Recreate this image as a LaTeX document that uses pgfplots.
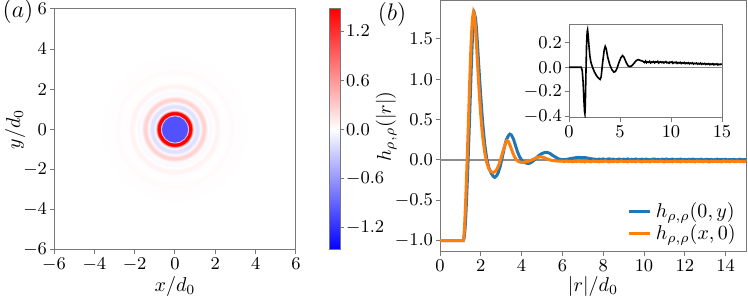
\documentclass[border=0pt]{standalone}
\usepackage{pgfplots}
\pgfplotsset{compat=1.18}
\usepackage{pgfplotstable}

\definecolor{mplblue}{RGB}{31,119,180}
\definecolor{mplorange}{RGB}{255,127,14}
\definecolor{framegray}{RGB}{120,120,120}

% radial profile of the 2D map (outer radius of each ring in units of d0, value h)
\pgfplotstableread{
x y r h
0 0 3.60 0.006
0 0 3.27 0.012
0 0 2.92 0.022
0 0 2.75 0.010
0 0 2.58 0.002
0 0 2.41 0.015
0 0 2.24 0.055
0 0 2.15 0.065
0 0 2.06 0.050
0 0 1.98 0.010
0 0 1.85 -0.030
0 0 1.72 -0.020
0 0 1.68 0.010
0 0 1.63 0.060
0 0 1.59 0.130
0 0 1.55 0.200
0 0 1.50 0.250
0 0 1.46 0.270
0 0 1.42 0.240
0 0 1.38 0.170
0 0 1.33 0.080
0 0 1.29 -0.020
0 0 1.25 -0.100
0 0 1.20 -0.150
0 0 1.16 -0.180
0 0 1.12 -0.180
0 0 1.08 -0.160
0 0 1.03 -0.110
0 0 0.99 -0.020
0 0 0.95 0.120
0 0 0.92 0.350
0 0 0.89 0.700
0 0 0.86 1.200
0 0 0.84 1.600
0 0 0.80 1.800
0 0 0.76 1.800
0 0 0.72 1.700
0 0 0.69 0.900
0 0 0.675 0.100
0 0 0.66 -0.300
0 0 0.645 -0.850
0 0 0.62 -1.000
}\heattable

\pgfplotstableread{
x y
0 -1
1.14 -1
1.18 -0.97
1.22 -0.88
1.26 -0.72
1.3 -0.5
1.34 -0.25
1.38 0.02
1.42 0.3
1.46 0.6
1.5 0.9
1.54 1.2
1.58 1.45
1.62 1.65
1.66 1.76
1.70 1.8
1.74 1.76
1.78 1.65
1.82 1.5
1.86 1.34
1.9 1.17
1.95 0.97
2.0 0.78
2.05 0.6
2.1 0.44
2.15 0.3
2.2 0.18
2.3 0.0
2.4 -0.1
2.5 -0.16
2.6 -0.2
2.68 -0.215
2.76 -0.2
2.85 -0.16
2.95 -0.08
3.05 0.03
3.15 0.15
3.25 0.25
3.35 0.3
3.42 0.32
3.5 0.31
3.6 0.26
3.7 0.18
3.8 0.1
3.9 0.04
4.0 0.0
4.1 -0.025
4.2 -0.037
4.3 -0.042
4.4 -0.04
4.5 -0.025
4.6 -0.005
4.7 0.02
4.8 0.045
4.9 0.065
5.0 0.08
5.1 0.09
5.2 0.095
5.3 0.09
5.4 0.08
5.5 0.06
5.6 0.045
5.7 0.03
5.8 0.015
5.9 0.008
6.0 0.005
6.1 0.004
6.2 0.008
6.3 0.012
6.4 0.018
6.5 0.022
6.6 0.026
6.7 0.03
6.8 0.032
6.9 0.03
7.0 0.029
7.1 0.031
7.2 0.025
7.3 0.02
7.4 0.016
7.5 0.012
7.6 0.01
7.7 0.004
7.8 0.011
7.9 0.006
8.0 0.013
8.1 0.002
8.2 0.009
8.3 0.014
8.4 0.005
8.5 0.01
8.6 0.001
8.7 0.008
8.8 0.012
8.9 0.004
9.0 0.01
9.1 0.006
9.2 0.013
9.3 0.003
9.4 0.009
9.5 0.005
9.6 0.012
9.7 0.002
9.8 0.008
9.9 0.01
10.0 0.004
10.1 0.011
10.2 0.006
10.3 0.001
10.4 0.009
10.5 0.012
10.6 0.004
10.7 0.008
10.8 0.002
10.9 0.01
11.0 0.006
11.1 0.012
11.2 0.003
11.3 0.007
11.4 0.01
11.5 0.002
11.6 0.008
11.7 0.005
11.8 0.011
11.9 0.003
12.0 0.007
12.1 0.001
12.2 0.009
12.3 0.006
12.4 0.011
12.5 0.002
12.6 0.007
12.7 0.004
12.8 0.01
12.9 0.001
13.0 0.006
13.1 0.009
13.2 0.003
13.3 0.008
13.4 0.0
13.5 0.006
13.6 0.01
13.7 0.002
13.8 0.007
13.9 0.004
14.0 0.009
14.1 0.001
14.2 0.006
14.3 0.003
14.4 0.008
14.5 0.0
14.6 0.005
14.7 0.009
14.8 0.002
14.9 0.006
15.0 0.004
}\bluetable

\pgfplotstableread{
x y
0 -1
1.14 -1
1.17 -0.95
1.2 -0.84
1.24 -0.62
1.28 -0.36
1.32 -0.08
1.36 0.22
1.4 0.52
1.44 0.85
1.48 1.15
1.52 1.42
1.56 1.63
1.6 1.77
1.64 1.83
1.68 1.8
1.72 1.7
1.76 1.55
1.8 1.38
1.85 1.15
1.9 0.93
1.95 0.73
2.0 0.55
2.05 0.4
2.1 0.27
2.2 0.08
2.3 -0.04
2.4 -0.11
2.5 -0.145
2.6 -0.155
2.7 -0.145
2.8 -0.11
2.9 -0.05
3.0 0.03
3.1 0.12
3.2 0.2
3.28 0.24
3.35 0.23
3.45 0.17
3.55 0.1
3.65 0.04
3.75 0.0
3.85 -0.02
3.95 -0.028
4.05 -0.03
4.15 -0.026
4.3 -0.018
4.45 -0.005
4.6 0.012
4.75 0.03
4.9 0.04
5.0 0.038
5.1 0.03
5.2 0.018
5.35 0.004
5.5 -0.006
5.7 -0.012
5.9 -0.014
6.0 -0.013
6.1 -0.02
6.2 -0.012
6.3 -0.019
6.4 -0.015
6.5 -0.023
6.6 -0.014
6.7 -0.019
6.8 -0.011
6.9 -0.021
7.0 -0.016
7.1 -0.024
7.2 -0.013
7.3 -0.018
7.4 -0.022
7.5 -0.012
7.6 -0.019
7.7 -0.015
7.8 -0.023
7.9 -0.014
8.0 -0.02
8.1 -0.011
8.2 -0.018
8.3 -0.024
8.4 -0.015
8.5 -0.02
8.6 -0.013
8.7 -0.022
8.8 -0.017
8.9 -0.012
9.0 -0.021
9.1 -0.016
9.2 -0.023
9.3 -0.013
9.4 -0.019
9.5 -0.015
9.6 -0.022
9.7 -0.012
9.8 -0.018
9.9 -0.024
10.0 -0.014
10.1 -0.02
10.2 -0.016
10.3 -0.023
10.4 -0.012
10.5 -0.019
10.6 -0.015
10.7 -0.021
10.8 -0.013
10.9 -0.018
11.0 -0.024
11.1 -0.014
11.2 -0.02
11.3 -0.016
11.4 -0.022
11.5 -0.012
11.6 -0.019
11.7 -0.015
11.8 -0.023
11.9 -0.013
12.0 -0.018
12.1 -0.021
12.2 -0.014
12.3 -0.02
12.4 -0.016
12.5 -0.023
12.6 -0.012
12.7 -0.019
12.8 -0.015
12.9 -0.022
13.0 -0.013
13.1 -0.018
13.2 -0.024
13.3 -0.015
13.4 -0.02
13.5 -0.014
13.6 -0.021
13.7 -0.016
13.8 -0.023
13.9 -0.012
14.0 -0.019
14.1 -0.015
14.2 -0.022
14.3 -0.013
14.4 -0.018
14.5 -0.02
14.6 -0.014
14.7 -0.021
14.8 -0.016
14.9 -0.022
15.0 -0.015
}\orangetable

\pgfplotstableread{
x y
0 0
1.2 0
1.3 -0.03
1.38 -0.12
1.45 -0.25
1.52 -0.36
1.56 -0.38
1.6 -0.3
1.66 -0.05
1.72 0.18
1.78 0.29
1.82 0.305
1.88 0.26
1.95 0.18
2.05 0.09
2.15 0.04
2.3 0.0
2.5 -0.04
2.7 -0.07
2.9 -0.09
3.05 -0.1
3.15 -0.08
3.3 0.04
3.45 0.14
3.55 0.17
3.65 0.15
3.8 0.08
4.0 0.02
4.2 -0.02
4.4 -0.04
4.55 -0.035
4.7 -0.01
4.9 0.04
5.1 0.08
5.25 0.095
5.4 0.08
5.6 0.04
5.8 0.01
6.0 0.005
6.2 0.015
6.4 0.035
6.6 0.055
6.8 0.062
7.0 0.055
7.2 0.05
7.3 0.045
7.4 0.038
7.5 0.05
7.6 0.036
7.7 0.044
7.8 0.04
7.9 0.048
8.0 0.035
8.1 0.043
8.2 0.039
8.3 0.047
8.4 0.036
8.5 0.044
8.6 0.041
8.7 0.048
8.8 0.034
8.9 0.042
9.0 0.045
9.1 0.037
9.2 0.043
9.3 0.035
9.4 0.041
9.5 0.046
9.6 0.036
9.7 0.04
9.8 0.033
9.9 0.042
10.0 0.038
10.1 0.044
10.2 0.032
10.3 0.04
10.4 0.036
10.5 0.042
10.6 0.031
10.7 0.038
10.8 0.034
10.9 0.04
11.0 0.03
11.1 0.037
11.2 0.033
11.3 0.039
11.4 0.029
11.5 0.035
11.6 0.031
11.7 0.037
11.8 0.028
11.9 0.034
12.0 0.03
12.1 0.036
12.2 0.026
12.3 0.032
12.4 0.029
12.5 0.034
12.6 0.025
12.7 0.031
12.8 0.027
12.9 0.033
13.0 0.024
13.1 0.03
13.2 0.026
13.3 0.031
13.4 0.022
13.5 0.028
13.6 0.025
13.7 0.03
13.8 0.021
13.9 0.027
14.0 0.023
14.1 0.029
14.2 0.02
14.3 0.026
14.4 0.022
14.5 0.028
14.6 0.019
14.7 0.025
14.8 0.021
14.9 0.026
15.0 0.022
}\difftable

\pgfplotsset{
  mystyle/.style={
    scale only axis,
    axis line style={framegray, line width=0.5pt},
    tick align=outside,
    major tick length=2pt,
    every tick/.style={framegray, line width=0.5pt},
    tick label style={font=\fontsize{9}{10}\selectfont},
    xticklabel style={yshift=1.5pt},
    yticklabel style={xshift=2pt},
    label style={font=\fontsize{10}{12}\selectfont},
    tick pos=left,
  },
  oneprec/.style={/pgf/number format/fixed, /pgf/number format/fixed zerofill, /pgf/number format/precision=1},
}

\begin{document}
\begin{tikzpicture}
\useasboundingbox (0,0) rectangle (374pt,149pt);

% ---------- panel (a) ----------
\begin{axis}[mystyle,
  at={(27pt,24pt)}, anchor=south west,
  width=121pt, height=120.5pt,
  xmin=-6, xmax=6, ymin=-6, ymax=6,
  xtick={-6,-4,...,6}, ytick={-6,-4,...,6},
  xlabel={$x/d_0$}, ylabel={$y/d_0$},
  every axis x label/.style={at={(axis description cs:0.5,-0.15)}, anchor=center},
  every axis y label/.style={at={(axis description cs:-0.161,0.5)}, rotate=90, anchor=center},
  colormap={bwr}{rgb255=(0,0,255) rgb255=(255,255,255) rgb255=(255,0,0)},
  point meta min=-1.47, point meta max=1.47,
  axis background/.style={fill=white},
  colorbar,
  colorbar style={
    at={(parent axis.north east)}, anchor=north west, xshift=8pt,
    scale only axis, width=5.5pt, height=120.5pt,
    axis line style={framegray, line width=0.5pt},
    ytick={-1.2,-0.6,0,0.6,1.2},
    yticklabel style={/pgf/number format/fixed, /pgf/number format/fixed zerofill, /pgf/number format/precision=1, font=\fontsize{9}{10}\selectfont, xshift=-2.5pt},
    ytick pos=right, yticklabel pos=right,
    tick align=outside, major tick length=2pt,
    every tick/.style={framegray, line width=0.5pt},
  },
]
\addplot[scatter, only marks, mark=*, scatter src=explicit,
  scatter/use mapped color={draw=mapped color, fill=mapped color},
  visualization depends on={10.0833*\thisrow{r} \as \myrad},
  scatter/@pre marker code/.append style={/tikz/mark size=\myrad},
  mark options={line width=0.1pt}]
  table[x=x, y=y, meta=h] {\heattable};
\end{axis}

% ---------- panel (b) ----------
\begin{axis}[mystyle,
  at={(220pt,23pt)}, anchor=south west,
  width=153pt, height=125.5pt,
  xmin=0, xmax=15, ymin=-1.14, ymax=1.97,
  xtick={0,2,...,14}, ytick={-1,-0.5,0,0.5,1,1.5},
  yticklabel style={oneprec},
  xlabel={$|r|/d_0$}, ylabel={$h_{\rho,\rho}(|r|)$},
  every axis x label/.style={at={(axis description cs:0.5,-0.139)}, anchor=center},
  every axis y label/.style={at={(axis description cs:-0.176,0.5)}, rotate=90, anchor=center},
  legend style={at={(1,0.006)}, anchor=south east, draw=none, fill=none,
    font=\fontsize{10}{11}\selectfont, row sep=-2pt},
  legend cell align=left,
  legend image code/.code={\draw[#1, line width=1.5pt] (0pt,0pt) -- (6.3pt,0pt); \path (0pt,0pt) -- (10.5pt,0pt);},
]
\addplot[color=black!45, line width=0.6pt, forget plot] coordinates {(0,0) (15,0)};
\addplot[color=mplblue, line width=1.5pt] table[x=x, y=y] {\bluetable};
\addlegendentry{$h_{\rho,\rho}(0,y)$}
\addplot[color=mplorange, line width=1.5pt] table[x=x, y=y] {\orangetable};
\addlegendentry{$h_{\rho,\rho}(x,0)$}
\end{axis}

% ---------- inset ----------
\begin{axis}[mystyle,
  at={(284.5pt,90pt)}, anchor=south west,
  width=76.5pt, height=46.5pt,
  xmin=0, xmax=15, ymin=-0.415, ymax=0.345,
  xtick={0,5,10,15}, ytick={-0.4,-0.2,0,0.2},
  yticklabel style={oneprec},
  axis background/.style={fill=white},
]
\addplot[color=black!45, line width=0.6pt] coordinates {(0,0) (15,0)};
\addplot[color=black, line width=0.8pt] table[x=x, y=y] {\difftable};
\end{axis}

\node[font=\fontsize{12}{14}\selectfont] at (9pt,143pt) {$(a)$};
\node[font=\fontsize{12}{14}\selectfont] at (196pt,141.5pt) {$(b)$};
\end{tikzpicture}
\end{document}
